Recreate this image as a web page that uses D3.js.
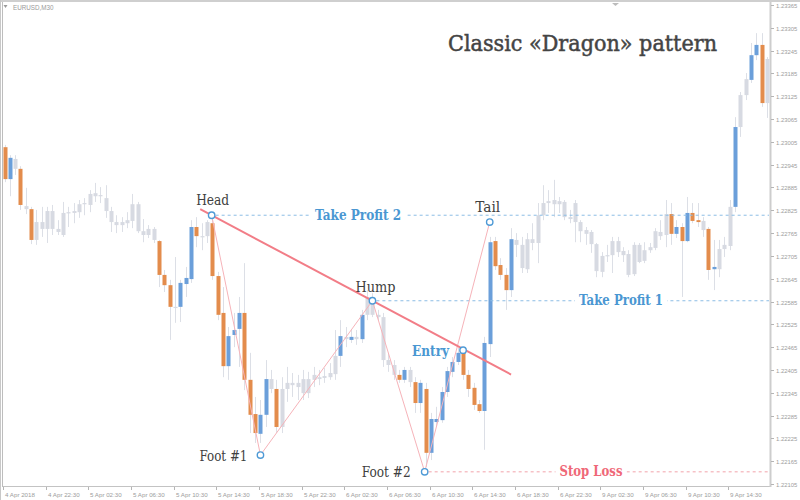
<!DOCTYPE html>
<html><head><meta charset="utf-8">
<script src="https://cdn.jsdelivr.net/npm/d3@7"></script>
<style>html,body{margin:0;padding:0;background:#fff;}svg{display:block;}</style>
</head><body>
<svg id="chart" width="800" height="500"></svg>
<script>
// ---------- DATA (EURUSD, M30) ----------
const symbolLabel = "EURUSD,M30";
const titleText = "Classic «Dragon» pattern";

const opens = [1.22991,1.22907,1.22960,1.22934,1.22836,1.22828,1.22747,1.22794,1.22776,1.22823,
1.22776,1.22760,1.22820,1.22818,1.22820,1.22841,1.22839,1.22870,1.22862,1.22857,
1.22823,1.22794,1.22786,1.22791,1.22797,1.22841,1.22770,1.22760,1.22776,1.22744,
1.22655,1.22628,1.22571,1.22571,1.22631,1.22644,1.22781,1.22757,1.22757,1.22791,
1.22652,1.22555,1.22415,1.22497,1.22513,1.22555,1.22379,1.22289,1.22237,1.22287,
1.22381,1.22355,1.22255,1.22355,1.22365,1.22371,1.22344,1.22344,1.22379,1.22381,
1.22384,1.22386,1.22394,1.22442,1.22492,1.22484,1.22486,1.22486,1.22550,1.22581,
1.22550,1.22544,1.22431,1.22418,1.22392,1.22379,1.22405,1.22373,1.22318,1.22355,
1.22187,1.22268,1.22273,1.22347,1.22400,1.22426,1.22450,1.22392,1.22358,1.22315,
1.22297,1.22473,1.22744,1.22681,1.22655,1.22615,1.22734,1.22734,1.22670,1.22739,
1.22739,1.22812,1.22844,1.22852,1.22841,1.22847,1.22807,1.22794,1.22794,1.22773,
1.22768,1.22736,1.22663,1.22705,1.22707,1.22744,1.22718,1.22710,1.22657,1.22734,
1.22692,1.22720,1.22726,1.22757,1.22760,1.22815,1.22763,1.22781,1.22744,1.22818,
1.22799,1.22797,1.22776,1.22670,1.22670,1.22723,1.22731,1.22834,1.23044,1.23128,
1.23168,1.23233,1.23260,1.23107];
const highs = [1.22997,1.22970,1.22970,1.22941,1.22884,1.22834,1.22826,1.22834,1.22834,1.22839,
1.22799,1.22847,1.22834,1.22844,1.22852,1.22857,1.22878,1.22897,1.22886,1.22891,
1.22834,1.22812,1.22807,1.22820,1.22868,1.22847,1.22802,1.22786,1.22781,1.22747,
1.22668,1.22642,1.22702,1.22642,1.22676,1.22799,1.22807,1.22791,1.22799,1.22812,
1.22663,1.22623,1.22518,1.22555,1.22597,1.22686,1.22450,1.22334,1.22326,1.22431,
1.22405,1.22379,1.22386,1.22413,1.22397,1.22392,1.22405,1.22400,1.22413,1.22405,
1.22410,1.22423,1.22510,1.22536,1.22518,1.22510,1.22510,1.22563,1.22615,1.22607,
1.22563,1.22555,1.22450,1.22431,1.22405,1.22413,1.22413,1.22386,1.22379,1.22371,
1.22292,1.22308,1.22360,1.22413,1.22439,1.22463,1.22463,1.22405,1.22371,1.22326,
1.22492,1.22755,1.22755,1.22699,1.22673,1.22778,1.22765,1.22755,1.22765,1.22791,
1.22844,1.22891,1.22878,1.22905,1.22860,1.22852,1.22826,1.22852,1.22799,1.22781,
1.22773,1.22739,1.22715,1.22734,1.22755,1.22755,1.22728,1.22720,1.22741,1.22739,
1.22741,1.22739,1.22778,1.22799,1.22852,1.22844,1.22799,1.22791,1.22860,1.22844,
1.22844,1.22807,1.22781,1.22747,1.22747,1.22755,1.22852,1.23070,1.23136,1.23186,
1.23265,1.23291,1.23291,1.23228];
const lows = [1.22899,1.22862,1.22918,1.22826,1.22815,1.22736,1.22734,1.22755,1.22739,1.22760,
1.22760,1.22755,1.22781,1.22791,1.22805,1.22812,1.22820,1.22847,1.22844,1.22805,
1.22768,1.22765,1.22768,1.22778,1.22778,1.22765,1.22741,1.22752,1.22739,1.22623,
1.22610,1.22484,1.22529,1.22531,1.22597,1.22634,1.22728,1.22720,1.22739,1.22642,
1.22536,1.22386,1.22379,1.22465,1.22413,1.22352,1.22239,1.22213,1.22213,1.22255,
1.22344,1.22239,1.22239,1.22321,1.22334,1.22326,1.22326,1.22331,1.22360,1.22365,
1.22371,1.22379,1.22379,1.22413,1.22465,1.22476,1.22471,1.22476,1.22536,1.22544,
1.22536,1.22413,1.22400,1.22379,1.22371,1.22371,1.22360,1.22292,1.22292,1.22150,
1.22168,1.22255,1.22266,1.22334,1.22386,1.22418,1.22379,1.22334,1.22300,1.22292,
1.22195,1.22439,1.22668,1.22642,1.22563,1.22597,1.22702,1.22660,1.22660,1.22720,
1.22686,1.22799,1.22818,1.22807,1.22818,1.22799,1.22791,1.22741,1.22741,1.22734,
1.22713,1.22649,1.22649,1.22689,1.22660,1.22702,1.22689,1.22649,1.22652,1.22686,
1.22686,1.22713,1.22720,1.22747,1.22728,1.22734,1.22752,1.22597,1.22741,1.22791,
1.22781,1.22755,1.22642,1.22615,1.22649,1.22702,1.22720,1.22820,1.23018,1.23115,
1.23160,1.23220,1.23097,1.23068];
const closes = [1.22907,1.22963,1.22934,1.22839,1.22828,1.22747,1.22794,1.22776,1.22823,1.22776,
1.22768,1.22818,1.22818,1.22823,1.22841,1.22844,1.22868,1.22862,1.22865,1.22823,
1.22794,1.22786,1.22794,1.22799,1.22841,1.22770,1.22760,1.22776,1.22747,1.22655,
1.22628,1.22571,1.22568,1.22634,1.22647,1.22781,1.22757,1.22755,1.22794,1.22652,
1.22550,1.22415,1.22494,1.22510,1.22555,1.22379,1.22287,1.22239,1.22287,1.22381,
1.22355,1.22255,1.22355,1.22371,1.22371,1.22360,1.22381,1.22381,1.22392,1.22386,
1.22389,1.22397,1.22442,1.22494,1.22486,1.22492,1.22492,1.22550,1.22597,1.22550,
1.22544,1.22431,1.22418,1.22392,1.22379,1.22405,1.22373,1.22318,1.22371,1.22187,
1.22276,1.22276,1.22347,1.22402,1.22426,1.22450,1.22392,1.22355,1.22313,1.22297,
1.22476,1.22741,1.22678,1.22655,1.22615,1.22749,1.22747,1.22673,1.22749,1.22749,
1.22812,1.22844,1.22849,1.22841,1.22849,1.22807,1.22802,1.22844,1.22770,1.22763,
1.22736,1.22665,1.22705,1.22707,1.22744,1.22715,1.22707,1.22655,1.22734,1.22689,
1.22720,1.22728,1.22770,1.22768,1.22815,1.22763,1.22781,1.22744,1.22818,1.22797,
1.22794,1.22773,1.22668,1.22676,1.22723,1.22734,1.22834,1.23044,1.23128,1.23170,
1.23233,1.23260,1.23107,1.23223];

// candles drawn in colour (others grey)
const highlighted = [0,1,3,5,29,30,31,33,34,35,36,39,40,41,42,43,44,45,46,47,48,49,51,63,65,67,
74,75,77,78,79,80,81,82,83,84,85,86,87,88,89,90,91,92,93,94,95,
125,126,127,128,129,130,132,133,137,140,141,142];

const timeLabels = ["4 Apr 2018","4 Apr 22:30","5 Apr 02:30","5 Apr 06:30","5 Apr 10:30","5 Apr 14:30",
"5 Apr 18:30","5 Apr 22:30","6 Apr 02:30","6 Apr 06:30","6 Apr 10:30","6 Apr 14:30","6 Apr 18:30",
"6 Apr 22:30","9 Apr 02:30","9 Apr 06:30","9 Apr 10:30","9 Apr 14:30"];
const barsPerLabel = 8;

const priceLabels = ["1.22105","1.22165","1.22225","1.22285","1.22345","1.22405","1.22465","1.22525",
"1.22585","1.22645","1.22705","1.22765","1.22825","1.22885","1.22945","1.23005","1.23065","1.23125",
"1.23185","1.23245","1.23305","1.23365"];

// pattern points (bar index, price)
const patternNames = ["Head","Foot #1","Hump","Foot #2","Entry","Tail"];
const patternIndex = [38.85, 48, 69, 78.8, 86, 91];
const patternPrice = [1.22812, 1.22181, 1.22587, 1.22137, 1.22457, 1.22794];

// target levels
const levelNames = ["Take Profit 2","Take Profit 1","Stop Loss"];
const levelPrice = [1.22812, 1.22587, 1.22137];
const levelFrom = ["Head","Hump","Foot #2"];
const levelKind = ["tp","tp","sl"];

// ---------- DRAWING ----------
const svg = d3.select("#chart");
const W = 800, H = 500;
const plotL = 3, plotR = 771, plotT = 3, plotB = 487;

const x = d3.scaleLinear().domain([0, opens.length - 1]).range([4.5, 767]);
const y = d3.scaleLinear().domain([+priceLabels[0], +priceLabels[priceLabels.length-1]]).range([484, 5]);

const C = {
  grey: "#d7dae2", greyWick: "#dcdfe6", orange: "#e38c4c", blue: "#6b9fda",
  trend: "#f27d87", zig: "#f6b3b9", tpLine: "#8dbde5", tpText: "#4a97d2",
  slLine: "#f2a3ab", slText: "#ef6878", circle: "#4e9ad6", label: "#404040", axis: "#9d9d9d"
};

svg.append("rect").attr("width", W).attr("height", H).attr("fill", "#ffffff");

// frame
svg.append("rect").attr("x",0).attr("y",0).attr("width",W).attr("height",2).attr("fill","#cfcfcf");
svg.append("line").attr("x1",0.5).attr("x2",0.5).attr("y1",0).attr("y2",H).attr("stroke","#c8c8c8");
svg.append("line").attr("x1",2.5).attr("x2",2.5).attr("y1",2).attr("y2",plotB).attr("stroke","#bdbdbd");
svg.append("line").attr("x1",plotL).attr("x2",plotR).attr("y1",plotB-0.5).attr("y2",plotB-0.5).attr("stroke","#c3c3c3");
svg.append("rect").attr("x",plotR-1.5).attr("y",2).attr("width",2).attr("height",plotB-2).attr("fill","#cdcdcd");
// small decoration triangles
svg.append("path").attr("d","M612,3 L619,3 L615.5,6 Z").attr("fill","#bcbcbc");
svg.append("path").attr("d","M3.5,5 L7.5,5 L5.5,8 Z").attr("fill","#9a9a9a");
svg.append("text").attr("x",13).attr("y",9.5).attr("font-family","Liberation Sans, Arial, sans-serif")
  .attr("font-size",6.3).attr("fill","#9a9a9a").text(symbolLabel);

// candles
const hl = new Set(highlighted);
const candles = d3.range(opens.length).map(i => ({i, o:opens[i], h:highs[i], l:lows[i], c:closes[i], hl: hl.has(i)}));
const g = svg.append("g");
const bw = 4;
g.selectAll("line.wick").data(candles).join("line")
  .attr("x1", d => Math.round(x(d.i)) + 0.5).attr("x2", d => Math.round(x(d.i)) + 0.5)
  .attr("y1", d => y(d.h)).attr("y2", d => y(d.l))
  .attr("stroke", C.greyWick).attr("stroke-width", 1);
g.selectAll("rect.body").data(candles).join("rect")
  .attr("x", d => Math.round(x(d.i)) - 1.5)
  .attr("width", bw)
  .attr("y", d => y(Math.max(d.o, d.c)))
  .attr("height", d => Math.max(1.2, y(Math.min(d.o, d.c)) - y(Math.max(d.o, d.c))))
  .attr("fill", d => !d.hl ? C.grey : (d.c >= d.o ? C.blue : C.orange));

// right axis
const yAxis = svg.append("g");
priceLabels.forEach(lbl => {
  const yy = Math.round(y(+lbl)) + 0.5;
  yAxis.append("line").attr("x1", plotR).attr("x2", plotR + 3).attr("y1", yy).attr("y2", yy).attr("stroke", "#b5b5b5");
  yAxis.append("text").attr("x", plotR + 5).attr("y", yy + 2.2)
    .attr("font-family","Liberation Sans, Arial, sans-serif").attr("font-size", 5.9)
    .attr("fill", C.axis).text(lbl);
});
// bottom axis
const xAxis = svg.append("g");
timeLabels.forEach((lbl, k) => {
  const xx = Math.round(x(k * barsPerLabel) - 1.5) + 0.5;
  xAxis.append("line").attr("x1", xx).attr("x2", xx).attr("y1", plotB).attr("y2", plotB + 3).attr("stroke", "#b5b5b5");
  xAxis.append("text").attr("x", xx + 1.5).attr("y", plotB + 9.5)
    .attr("font-family","Liberation Sans, Arial, sans-serif").attr("font-size", 6.2)
    .attr("fill", C.axis).text(lbl);
});

// pattern geometry
const P = {};
patternNames.forEach((n, k) => P[n] = {x: x(patternIndex[k]), y: y(patternPrice[k])});

// level lines
levelNames.forEach((name, k) => {
  const yy = y(levelPrice[k]);
  const x0 = P[levelFrom[k]].x + 4;
  svg.append("line").attr("x1", x0).attr("x2", 769).attr("y1", yy).attr("y2", yy)
    .attr("stroke", levelKind[k] === "tp" ? C.tpLine : C.slLine)
    .attr("stroke-width", 1).attr("stroke-dasharray", "3,3");
});

// zigzag (thin)
const zigOrder = ["Head","Foot #1","Hump","Foot #2","Tail"];
svg.append("path")
  .attr("d", d3.line().x(n => P[n].x).y(n => P[n].y)(zigOrder))
  .attr("fill","none").attr("stroke", C.zig).attr("stroke-width", 1);

// trend line through Head and Hump
const hIdx = patternIndex[0], hPr = patternPrice[0], mIdx = patternIndex[2], mPr = patternPrice[2];
const slope = (mPr - hPr) / (mIdx - hIdx);
const tStart = 36.7, tEnd = 95.0;
svg.append("line")
  .attr("x1", x(tStart)).attr("y1", y(hPr + slope * (tStart - hIdx)))
  .attr("x2", x(tEnd)).attr("y2", y(hPr + slope * (tEnd - hIdx)))
  .attr("stroke", C.trend).attr("stroke-width", 2);

// level labels (white box breaks the dashed line)
const levelLabelX = [358, 621, 591];
const levelLabelW = [86, 84, 63];
levelNames.forEach((name, k) => {
  const yy = y(levelPrice[k]);
  svg.append("rect").attr("x", levelLabelX[k] - levelLabelW[k]/2 - 4).attr("y", yy - 7)
    .attr("width", levelLabelW[k] + 8).attr("height", 14).attr("fill", "#fff");
  svg.append("text").attr("x", levelLabelX[k]).attr("y", yy + 4.5)
    .attr("text-anchor","middle").attr("font-family","DejaVu Serif, serif")
    .attr("font-weight","bold").attr("font-size", 14)
    .attr("textLength", levelLabelW[k]).attr("lengthAdjust","spacingAndGlyphs")
    .attr("fill", levelKind[k] === "tp" ? C.tpText : C.slText).text(name);
});

// circles
patternNames.forEach(n => {
  svg.append("circle").attr("cx", P[n].x).attr("cy", P[n].y).attr("r", 3.2)
    .attr("fill","#fff").attr("stroke", C.circle).attr("stroke-width", 1.4);
});

// point labels
const labelSpec = {
  "Head":   {dx: 1,   dy: -10, anchor: "middle", w: 33},
  "Hump":   {dx: 3,   dy: -9,  anchor: "middle", w: 40},
  "Tail":   {dx: -2,  dy: -10, anchor: "middle", w: 25},
  "Foot #1":{dx: -13, dy: 6,   anchor: "end",    w: 48},
  "Foot #2":{dx: -14, dy: 5,   anchor: "end",    w: 49},
  "Entry":  {dx: -14, dy: 6,   anchor: "end",    w: 37}
};
patternNames.forEach(n => {
  const s = labelSpec[n];
  svg.append("text").attr("x", P[n].x + s.dx).attr("y", P[n].y + s.dy)
    .attr("text-anchor", s.anchor).attr("font-family","DejaVu Serif, serif")
    .attr("font-size", 14).attr("font-weight", n === "Entry" ? "bold" : "normal")
    .attr("textLength", s.w).attr("lengthAdjust","spacingAndGlyphs")
    .attr("fill", n === "Entry" ? C.tpText : C.label).text(n);
});

// title
svg.append("text").attr("x", 448).attr("y", 51)
  .attr("font-family","DejaVu Serif, serif").attr("font-size", 22)
  .attr("textLength", 269).attr("lengthAdjust","spacingAndGlyphs")
  .attr("fill", "#444444").attr("stroke", "#444444").attr("stroke-width", 0.5)
  .text(titleText);
</script>
</body></html>
